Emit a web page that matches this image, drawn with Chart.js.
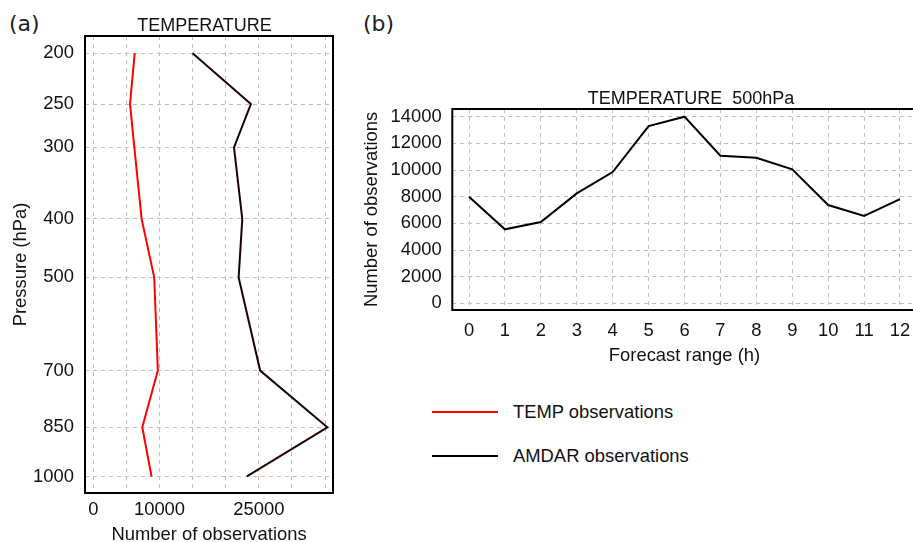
<!DOCTYPE html>
<html>
<head>
<meta charset="utf-8">
<script src="https://cdn.jsdelivr.net/npm/chart.js@4.4.1/dist/chart.umd.min.js"></script>
<style>
  html, body { margin: 0; padding: 0; background: #fff; }
  body { position: relative; width: 913px; height: 542px; overflow: hidden; font-family: "Liberation Sans", Arial, sans-serif; color: #111; }
  canvas { position: absolute; }
  #profile { left: 0; top: 0; }
  #forecast { left: 345px; top: 80px; }
  .panel { position: absolute; top: 13px; font: 22px/22px "DejaVu Sans", sans-serif; color: #222; }
  #legend { position: absolute; left: 432px; top: 401px; font-size: 18.4px; }
  #legend .row { display: flex; align-items: center; height: 22px; line-height: 22px; margin-bottom: 22px; }
  #legend .swatch { width: 66px; height: 2px; margin-right: 15px; }
</style>
</head>
<body>
<div class="panel" style="left:9px">(a)</div>
<div class="panel" style="left:363px">(b)</div>
<canvas id="profile" width="345" height="560"></canvas>
<canvas id="forecast" width="600" height="300"></canvas>
<div id="legend"></div>

<script>
/* Data */

const pressureLevels = [200, 250, 300, 400, 500, 700, 850, 1000]
const tempObs = [6250, 5550, 6200, 7300, 9200, 9750, 7400, 8800]
const amdarObs = [15000, 23800, 21250, 22500, 21950, 25200, 35350, 23200]

const obsGrid = [0, 5000, 10000, 15000, 20000, 25000, 30000, 35000]
const obsLabels = [0, 10000, 25000]

const forecastHours = [0, 1, 2, 3, 4, 5, 6, 7, 8, 9, 10, 11, 12]
const amdar500 = [8000, 5550, 6100, 8250, 9850, 13300, 14000, 11070, 10920, 10050, 7370, 6550, 7820]
const countTicks = [0, 2000, 4000, 6000, 8000, 10000, 12000, 14000]

const series = [
  { label: 'TEMP observations', color: '#ff0000' },
  { label: 'AMDAR observations', color: '#000000' }
]

/* Pressure axis: spacing goes with p^0.2 */

const POWER = 0.2

class PowerScale extends Chart.LinearScale {
  static id = 'power'
  static defaults = Chart.LinearScale.defaults

  getPixelForValue(value) {
    const lo = Math.pow(this.min, POWER)
    const hi = Math.pow(this.max, POWER)
    return this.getPixelForDecimal((Math.pow(value, POWER) - lo) / (hi - lo))
  }

  getValueForPixel(pixel) {
    const lo = Math.pow(this.min, POWER)
    const hi = Math.pow(this.max, POWER)
    return Math.pow(lo + this.getDecimalForPixel(pixel) * (hi - lo), 1 / POWER)
  }
}
Chart.register(PowerScale)

/* Plugins */

const frame = {
  id: 'frame',
  afterDraw(chart) {
    const { ctx, chartArea: a } = chart
    ctx.save()
    ctx.strokeStyle = '#000'
    ctx.lineWidth = 2
    ctx.strokeRect(a.left, a.top, a.right - a.left, a.bottom - a.top)
    ctx.restore()
  }
}

const panelTitle = {
  id: 'panelTitle',
  afterDraw(chart, args, opts) {
    const { ctx, chartArea: a } = chart
    ctx.save()
    ctx.font = '18px "Liberation Sans", Arial, sans-serif'
    ctx.fillStyle = '#111'
    ctx.textAlign = 'center'
    ctx.textBaseline = 'alphabetic'
    ctx.fillText(opts.text, (a.left + a.right) / 2 + opts.dx, a.top - opts.gap)
    ctx.restore()
  }
}

const font = { family: '"Liberation Sans", Arial, sans-serif', size: 18.4 }
const gridColor = '#bdbdbd'
const textColor = '#111'

const setTicks = values => scale => {
  scale.ticks = values.map(v => ({ value: v }))
}

/* (a) Vertical profile */

const ctxProfile = document.getElementById('profile').getContext('2d')
const profileChart = new Chart(ctxProfile, {
  type: 'line',
  data: {
    datasets: [
      {
        label: series[0].label,
        data: pressureLevels.map((p, i) => ({ x: tempObs[i], y: p })),
        borderColor: series[0].color
      },
      {
        label: series[1].label,
        data: pressureLevels.map((p, i) => ({ x: amdarObs[i], y: p })),
        borderColor: '#1c0000'
      }
    ]
  },
  options: {
    responsive: false,
    animation: false,
    indexAxis: 'y',
    layout: { padding: { top: 36, right: 12, left: 0, bottom: 0 } },
    elements: {
      point: { radius: 0 },
      line: { borderWidth: 2, tension: 0 }
    },
    plugins: {
      legend: { display: false },
      tooltip: { enabled: false },
      panelTitle: { text: 'TEMPERATURE', dx: -4.5, gap: 5.3 }
    },
    scales: {
      x: {
        type: 'linear',
        position: 'bottom',
        min: -1250,
        max: 36200,
        afterBuildTicks: setTicks(obsGrid),
        afterFit: scale => { scale.height = 67 },
        ticks: {
          autoSkip: false,
          maxRotation: 0,
          padding: 6,
          font: font,
          color: textColor,
          callback: value => obsLabels.includes(value) ? String(value) : ''
        },
        grid: { color: gridColor, drawTicks: false },
        border: { display: false, dash: [4, 4] },
        title: {
          display: true,
          text: 'Number of observations',
          font: font,
          color: textColor,
          padding: { top: 0, bottom: 14.4 }
        }
      },
      y: {
        type: 'power',
        position: 'left',
        reverse: true,
        min: 185,
        max: 1055,
        afterBuildTicks: setTicks(pressureLevels),
        afterFit: scale => { scale.width = 85 },
        ticks: {
          autoSkip: false,
          padding: 11,
          font: font,
          color: textColor,
          callback: value => String(value)
        },
        grid: { color: gridColor, drawTicks: false },
        border: { display: false, dash: [4, 4] },
        title: {
          display: true,
          text: 'Pressure (hPa)',
          font: font,
          color: textColor,
          padding: { top: 10.3, bottom: 0 }
        }
      }
    }
  },
  plugins: [frame, panelTitle]
})

/* (b) 500 hPa by forecast range */

const ctxForecast = document.getElementById('forecast').getContext('2d')
const forecastChart = new Chart(ctxForecast, {
  type: 'line',
  data: {
    datasets: [{
      label: series[1].label,
      data: forecastHours.map((h, i) => ({ x: h, y: amdar500[i] })),
      borderColor: series[1].color
    }]
  },
  options: {
    responsive: false,
    animation: false,
    layout: { padding: { top: 29, right: 28.3, left: 0, bottom: 0 } },
    elements: {
      point: { radius: 0 },
      line: { borderWidth: 2, tension: 0 }
    },
    plugins: {
      legend: { display: false },
      tooltip: { enabled: false },
      panelTitle: { text: 'TEMPERATURE  500hPa', dx: 6.5, gap: 4.7 }
    },
    scales: {
      x: {
        type: 'linear',
        position: 'bottom',
        min: -0.465,
        max: 12.465,
        afterBuildTicks: setTicks(forecastHours),
        afterFit: scale => { scale.height = 70 },
        ticks: {
          autoSkip: false,
          maxRotation: 0,
          padding: 10,
          font: font,
          color: textColor,
          callback: value => String(value)
        },
        grid: { color: gridColor, drawTicks: false },
        border: { display: false, dash: [4, 4] },
        title: {
          display: true,
          text: 'Forecast range (h)',
          font: font,
          color: textColor,
          padding: { top: 0, bottom: 13.5 }
        }
      },
      y: {
        type: 'linear',
        position: 'left',
        min: -500,
        max: 14577,
        afterBuildTicks: setTicks(countTicks),
        afterFit: scale => { scale.width = 107.3 },
        ticks: {
          autoSkip: false,
          padding: 10.6,
          font: font,
          color: textColor,
          callback: value => String(value)
        },
        grid: { color: gridColor, drawTicks: false },
        border: { display: false, dash: [4, 4] },
        title: {
          display: true,
          text: 'Number of observations',
          font: font,
          color: textColor,
          padding: { top: 15.7, bottom: 0 }
        }
      }
    }
  },
  plugins: [frame, panelTitle]
})

/* Legend */

const legend = document.getElementById('legend')
series.forEach(s => {
  const row = document.createElement('div')
  row.className = 'row'
  const swatch = document.createElement('span')
  swatch.className = 'swatch'
  swatch.style.background = s.color
  row.appendChild(swatch)
  row.appendChild(document.createTextNode(s.label))
  legend.appendChild(row)
})
</script>
</body>
</html>
